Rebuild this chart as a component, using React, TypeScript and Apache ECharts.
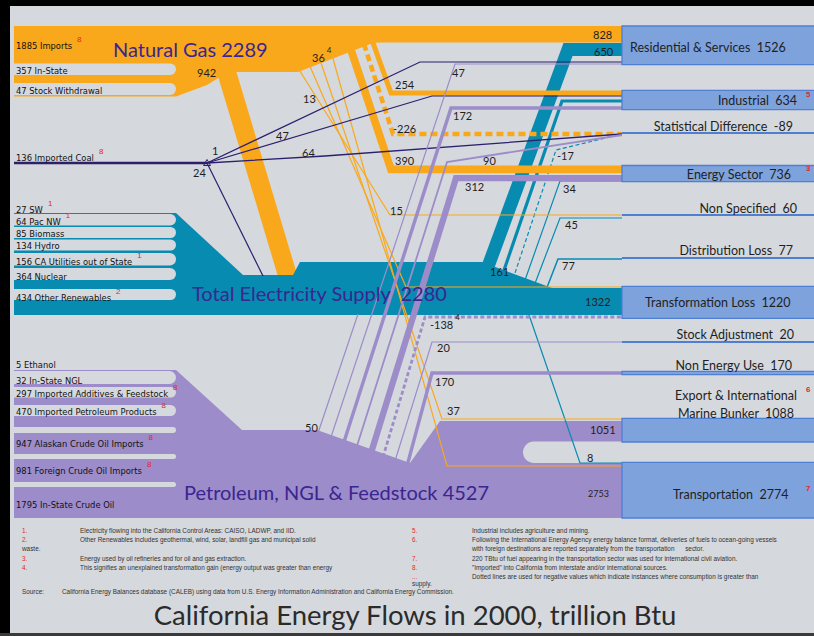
import React, { useEffect, useRef } from "react";
import * as echarts from "echarts";

type P = [number, number];

// ---------------- DATA (trillion Btu, California 2000) ----------------
const gasSourceNames = ["Imports", "In-State", "Stock Withdrawal"];
const gasSourceValues = [1885, 357, 47];
const gasSourceNotes = ["8", "", ""];

const coalSourceNames = ["Imported Coal"];
const coalSourceValues = [136];
const coalSourceNotes = ["8"];

const elecSourceNames = ["SW", "Pac NW", "Biomass", "Hydro", "CA Utilities out of State", "Nuclear", "Other Renewables"];
const elecSourceValues = [27, 64, 85, 134, 156, 364, 434];
const elecSourceNotes = ["1", "1", "", "", "1", "", "2"];

const petroSourceNames = ["Ethanol", "In-State NGL", "Imported Additives & Feedstock", "Imported Petroleum Products", "Alaskan Crude Oil Imports", "Foreign Crude Oil Imports", "In-State Crude Oil"];
const petroSourceValues = [5, 32, 297, 470, 947, 981, 1795];
const petroSourceNotes = ["", "", "8", "8", "8", "8", ""];

const hubNames = ["Natural Gas", "Total Electricity Supply", "Petroleum, NGL & Feedstock"];
const hubTotals = [2289, 2280, 4527];

const sinkNames = ["Residential & Services", "Industrial", "Statistical Difference", "Energy Sector", "Non Specified", "Distribution Loss", "Transformation Loss", "Stock Adjustment", "Non Energy Use", "Export & International Marine Bunker", "Transportation"];
const sinkTotals = [1526, 634, -89, 736, 60, 77, 1220, 20, 170, 1088, 2774];
const sinkNotes = ["", "5", "", "3", "", "", "", "", "", "6", "7"];

// flows hub -> sink (same order as sinkNames); 0 = no flow
const gasToSinks = [828, 254, -226, 390, 15, 0, 36, 0, 0, 37, 13];
const elecToSinks = [650, 161, -17, 34, 45, 77, 1322, 0, 0, 0, 8];
const petroToSinks = [47, 172, 90, 312, 0, 0, -138, 20, 170, 1051, 2753];
const coalToSinks = [1, 47, 64, 0, 0, 0, 0, 0, 0, 0, 0];
const gasToElectricity = 942;
const coalToElectricity = 24;
const petroToElectricity = 50;

const titleText = "California Energy Flows in 2000, trillion Btu";
const footLeft: [string, string, number][] = [
  ["1.", "Electricity flowing into the California Control Areas: CAISO, LADWP, and IID.", 530],
  ["2.", "Other Renewables includes geothermal, wind, solar, landfill gas and municipal solid", 539],
  ["3.", "Energy used by oil refineries and for oil and gas extraction.", 558],
  ["4.", "This signifies an unexplained transformation gain (energy output was greater than energy", 567],
];
const footRight: [string, string, number][] = [
  ["5.", "Industrial includes agriculture and mining.", 530],
  ["6.", "Following the International Energy Agency energy balance format, deliveries of fuels to ocean-going vessels", 539],
  ["", "with foreign destinations are reported separately from the transportation      sector.", 548],
  ["7.", "220 TBtu of fuel appearing in the transportation sector was used for international civil aviation.", 558],
  ["8.", "\"Imported\" into California from interstate and/or international sources.", 567],
  ["...", "Dotted lines are used for negative values which indicate instances where consumption is greater than", 576],
];
const sourceText = "California Energy Balances database (CALEB) using data from U.S. Energy Information Administration and California Energy Commission.";

// ---------------- LAYOUT (positions / styles only) ----------------
const K = 0.02; // px per trillion Btu
const MIN_W = 1.2;
const BOX_X = 622;

const C = {
  bg: "#d5d8dd", gas: "#f9a81b", elec: "#078bb1", petro: "#9c8cc9", coal: "#2c1f6e",
  box: "#7ea2dc", boxEdge: "#4f7fd3", hub: "#3b2590", text: "#1f1f1f", red: "#e5262b",
};
const F_NARROW = '"DejaVu Sans Condensed", "Liberation Sans Narrow", Roboto, sans-serif';
const F_MAIN = 'Lato, "Open Sans", sans-serif';
const F_FOOT = '"Liberation Sans", Arial, sans-serif';

type Route = { pts: P[]; top?: number; bottom?: number; lab: P; sup?: string; small?: boolean };

const GAS_REGION: P[] = [[14, 26], [380, 26], [380, 42], [373, 43], [298, 72], [228, 72], [207, 85], [176, 96.5], [14, 96.5]];
const ELEC_REGION: P[] = [[14, 213], [176, 213], [243, 275], [293, 275], [300, 262], [482, 262], [552, 288], [622, 288], [622, 315], [14, 315]];
const PETRO_REGION: P[] = [[14, 370], [176, 370], [242, 430], [317, 430], [410, 463], [440, 421], [622, 421], [622, 518], [14, 518]];
const PETRO_LENS = { x: 523, y: 441.5, w: 110, h: 21.5 };

const GAS_TONGUES: P[] = [[63.5, 75], [83, 95]];
const ELEC_TONGUES: P[] = [[214, 225.5], [227, 238], [239.5, 250.5], [253, 265.5], [268, 280], [289, 300]];
const PETRO_TONGUES: P[] = [[371, 384], [387, 397.5], [405, 416], [427, 433], [454, 459], [482, 487]];

const GAS_LABEL_Y = [45, 70, 90];
const COAL_LABEL_Y = [157];
const ELEC_LABEL_Y = [209, 221, 233, 245, 261, 276, 297];
const PETRO_LABEL_Y = [364, 380, 393, 411, 443, 470, 504];

const GAS_ROUTES: Record<number, Route> = {
  0: { pts: [[300, 0], [BOX_X, 0]], top: 26, lab: [593, 34] },
  1: { pts: [[372, 40], [391, 93], [BOX_X, 93]], lab: [395, 84] },
  2: { pts: [[364, 44], [393, 134], [BOX_X, 134]], lab: [393, 128] },
  3: { pts: [[350, 47], [391, 0], [BOX_X, 0]], top: 165.5, lab: [395, 160] },
  4: { pts: [[298, 68], [390, 215], [BOX_X, 215]], lab: [390, 210] },
  6: { pts: [[309, 64], [406, 287], [BOX_X, 287]], lab: [312, 57], sup: "4" },
  9: { pts: [[320, 60], [442, 419], [BOX_X, 419]], lab: [447, 410] },
  10: { pts: [[332, 55], [447, 466], [BOX_X, 466]], lab: [303, 98] },
};
const GAS_ELEC_ROUTE: Route = { pts: [[226, 70], [288, 277]], lab: [197, 72] };

const ELEC_ROUTES: Record<number, Route> = {
  0: { pts: [[486, 272], [568, 0], [BOX_X, 0]], top: 43, lab: [594, 51] },
  1: { pts: [[502, 276], [562, 101], [BOX_X, 101]], lab: [490, 271] },
  2: { pts: [[513, 279], [556, 150], [BOX_X, 134]], lab: [557, 155] },
  3: { pts: [[524, 283], [560, 181], [BOX_X, 181]], lab: [563, 188] },
  4: { pts: [[534, 286], [560, 218], [BOX_X, 218]], lab: [565, 224] },
  5: { pts: [[546, 290], [558, 259], [BOX_X, 259]], lab: [562, 265] },
  6: { pts: [[540, 0], [BOX_X, 0]], bottom: 315, lab: [585, 301] },
  10: { pts: [[528, 312], [580, 463], [BOX_X, 463]], lab: [587, 457] },
};

const PETRO_ROUTES: Record<number, Route> = {
  0: { pts: [[330, 440], [455, 64], [BOX_X, 64]], lab: [452, 72] },
  1: { pts: [[343, 445], [451, 108], [BOX_X, 108]], lab: [453, 115] },
  2: { pts: [[356, 449], [447, 162], [BOX_X, 135]], lab: [483, 160] },
  3: { pts: [[371, 453], [456, 0], [BOX_X, 0]], top: 175, lab: [465, 186] },
  6: { pts: [[383, 457], [425, 317], [BOX_X, 317]], lab: [430, 324], sup: "4" },
  7: { pts: [[395, 461], [432, 342], [BOX_X, 342]], lab: [437, 347] },
  8: { pts: [[407, 466], [432, 373], [BOX_X, 373]], lab: [435, 381] },
  9: { pts: [[445, 0], [BOX_X, 0]], top: 421, lab: [590, 429] },
  10: { pts: [[445, 0], [BOX_X, 0]], bottom: 518, lab: [588, 493], small: true },
};
const PETRO_ELEC_ROUTE: Route = { pts: [[317, 436], [358, 314]], lab: [305, 427] };

const COAL_SOURCE_LINE: P[] = [[14, 163], [207, 163]];
const COAL_ROUTES: Record<number, Route> = {
  0: { pts: [[207, 163], [420, 62], [BOX_X, 62]], lab: [212, 150] },
  1: { pts: [[207, 163], [432, 96], [BOX_X, 96]], lab: [276, 135] },
  2: { pts: [[207, 163], [325, 156], [BOX_X, 134]], lab: [302, 152] },
};
const COAL_ELEC_ROUTE: Route = { pts: [[207, 163], [263, 276]], lab: [193, 172] };

const HUB_LABELS: P[] = [[113, 49], [192, 293], [184, 492]];

const SINK_LINE_Y: (number | null)[] = [null, null, 133, null, 215, 258, null, 342, null, null, null];
const SINK_LABELS: { x: number; y: number; align: string; wrap?: boolean }[] = [
  { x: 630, y: 47, align: "left" },
  { x: 797, y: 100, align: "right" },
  { x: 793, y: 126, align: "right" },
  { x: 791, y: 174, align: "right" },
  { x: 797, y: 208, align: "right" },
  { x: 793, y: 250, align: "right" },
  { x: 645, y: 302, align: "left" },
  { x: 794, y: 334, align: "right" },
  { x: 792, y: 365, align: "right" },
  { x: 736, y: 404, align: "center", wrap: true },
  { x: 673, y: 494, align: "left" },
];

// ---------------- BUILD ----------------
const widthOf = (v: number) => Math.max(MIN_W, Math.abs(v) * K);
function routePts(r: Route, v: number): P[] {
  const w = widthOf(v);
  const pts = r.pts.map((p) => [p[0], p[1]] as P);
  const n = pts.length;
  let y: number | null = null;
  if (r.top != null) y = r.top + w / 2;
  if (r.bottom != null) y = r.bottom - w / 2;
  if (y != null) { pts[n - 1][1] = y; pts[n - 2][1] = y; }
  return pts;
}

let measureCtx: CanvasRenderingContext2D | null = null;
function textWidth(s: string, font: string) {
  if (!measureCtx) measureCtx = document.createElement("canvas").getContext("2d");
  if (!measureCtx) return s.length * 4.5;
  measureCtx.font = font;
  return measureCtx.measureText(s).width;
}

function buildItems() {
  const items: any[] = [];
  const poly = (pts: P[], fill: string) => items.push({ t: "poly", pts, fill });
  const line = (pts: P[], w: number, color: string, dash?: number[]) => items.push({ t: "line", pts, w, color, dash });
  const rect = (x: number, y: number, w: number, h: number, fill: string, extra: any = {}) => items.push({ t: "rect", x, y, w, h, fill, ...extra });
  const text = (x: number, y: number, s: string, size: number, color: string, family: string, extra: any = {}) =>
    items.push({ t: "text", x, y, s, size, color, family, ...extra });

  const flowLabels: any[] = [];
  const sinkExt: [number, number][][] = sinkNames.map(() => []);
  const flow = (r: Route, v: number, color: string, sink: number | null) => {
    const pts = routePts(r, v);
    const w = widthOf(v);
    line(pts, w, color, v < 0 ? (w > 3 ? [7, 4] : [4, 2.5]) : undefined);
    if (sink != null) {
      const yEnd = pts[pts.length - 1][1];
      sinkExt[sink].push([yEnd - w / 2, yEnd + w / 2]);
    }
    flowLabels.push({ r, v });
  };

  rect(0, 0, 814, 636, C.bg);

  // hub regions
  poly(GAS_REGION, C.gas);
  flow(GAS_ELEC_ROUTE, gasToElectricity, C.gas, null);
  poly(ELEC_REGION, C.elec);
  flow(ELEC_ROUTES[6], elecToSinks[6], C.elec, 6);
  poly(PETRO_REGION, C.petro);
  flow(PETRO_ROUTES[9], petroToSinks[9], C.petro, 9);
  flow(PETRO_ROUTES[10], petroToSinks[10], C.petro, 10);
  rect(PETRO_LENS.x, PETRO_LENS.y, PETRO_LENS.w, PETRO_LENS.h, C.bg, { r: [PETRO_LENS.h / 2, 0, 0, PETRO_LENS.h / 2] });

  elecToSinks.forEach((v, i) => { if (v !== 0 && i !== 6) flow(ELEC_ROUTES[i], v, C.elec, i); });
  gasToSinks.forEach((v, i) => { if (v !== 0) flow(GAS_ROUTES[i], v, C.gas, i); });
  line(COAL_SOURCE_LINE, widthOf(coalSourceValues[0]), C.coal);
  coalToSinks.forEach((v, i) => { if (v !== 0) flow(COAL_ROUTES[i], v, C.coal, i); });
  flow(COAL_ELEC_ROUTE, coalToElectricity, C.coal, null);
  items.push({ t: "tri", pts: [[203.5, 165.5], [210.5, 165.5], [207, 159.5]] as P[], color: C.coal });
  flow(PETRO_ELEC_ROUTE, petroToElectricity, C.petro, null);
  petroToSinks.forEach((v, i) => { if (v !== 0 && i !== 9 && i !== 10) flow(PETRO_ROUTES[i], v, C.petro, i); });

  // label slots carved into the hub regions
  [GAS_TONGUES, ELEC_TONGUES, PETRO_TONGUES].forEach((ts) =>
    ts.forEach(([a, b]) => rect(10, a, 166, b - a, C.bg, { r: [0, (b - a) / 2, (b - a) / 2, 0] }))
  );

  // sink boxes / lines
  sinkNames.forEach((_, i) => {
    const ly = SINK_LINE_Y[i];
    if (Math.abs(sinkTotals[i]) < 100 && ly != null) {
      rect(BOX_X, ly - 1, 200, 2, C.boxEdge);
    } else {
      const ext = sinkExt[i];
      const y0 = Math.min(...ext.map((e) => e[0]));
      const y1 = Math.max(...ext.map((e) => e[1]));
      rect(BOX_X, y0, 200, y1 - y0, C.box, { stroke: C.boxEdge, lw: 1.3 });
    }
  });

  // frame
  rect(0, 0, 814, 6, "#000");
  rect(0, 0, 10, 636, "#000");
  rect(0, 633, 814, 3, "#3a3a3a");

  // ---------- texts ----------
  const leftFont = 9.3;
  const leftFontStr = `${leftFont}px ${F_NARROW}`;
  const leftGroup = (names: string[], vals: number[], notes: string[], ys: number[]) =>
    names.forEach((n, i) => {
      const s = `${vals[i]} ${n}`;
      text(16, ys[i], s, leftFont, "#111", F_NARROW);
      if (notes[i]) text(16 + textWidth(s, leftFontStr) + 5, ys[i] - 6, notes[i], 8, C.red, F_FOOT);
    });
  leftGroup(gasSourceNames, gasSourceValues, gasSourceNotes, GAS_LABEL_Y);
  leftGroup(coalSourceNames, coalSourceValues, coalSourceNotes, COAL_LABEL_Y);
  leftGroup(elecSourceNames, elecSourceValues, elecSourceNotes, ELEC_LABEL_Y);
  leftGroup(petroSourceNames, petroSourceValues, petroSourceNotes, PETRO_LABEL_Y);

  hubNames.forEach((n, i) => {
    const s = i === 1 ? `${n}  ${hubTotals[i]}` : `${n} ${hubTotals[i]}`;
    text(HUB_LABELS[i][0], HUB_LABELS[i][1], s, 20, C.hub, F_MAIN);
  });

  flowLabels.forEach(({ r, v }) => {
    const size = r.small ? 9 : 11;
    text(r.lab[0], r.lab[1], String(v), size, C.text, F_MAIN);
    if (r.sup) text(r.lab[0] + textWidth(String(v), `${size}px ${F_MAIN}`) + 2, r.lab[1] - 7, r.sup, 8, C.text, F_MAIN);
  });

  sinkNames.forEach((n, i) => {
    const L = SINK_LABELS[i];
    const name = L.wrap ? n.replace("International ", "International\n") : n;
    text(L.x, L.y, `${name}  ${sinkTotals[i]}`, 12.5, C.text, F_MAIN, { align: L.align, lh: 18 });
    if (sinkNotes[i]) text(806, L.y - (L.wrap ? 15 : 6), sinkNotes[i], 8, C.red, F_FOOT, { weight: "bold" });
  });

  // footnotes
  const fs = 6.4;
  footLeft.forEach(([k, s, y]) => { text(22, y, k, fs, C.red, F_FOOT); text(80, y, s, fs, "#333", F_FOOT); });
  text(22, 548, "waste.", fs, "#333", F_FOOT);
  footRight.forEach(([k, s, y]) => { if (k) text(412, y, k, fs, C.red, F_FOOT); text(472, y, s, fs, "#333", F_FOOT); });
  text(412, 583, "supply.", fs, "#333", F_FOOT);
  text(22, 591, "Source:", fs, "#333", F_FOOT);
  text(62, 591, sourceText, fs, "#333", F_FOOT);

  text(415, 614, titleText, 27.5, "#2b2b2b", F_MAIN, { align: "center" });
  return items;
}

function renderEl(it: any, api: any) {
  const c = (p: P) => api.coord(p);
  const unit = api.size([1, 1]) as number[];
  if (it.t === "poly") return { type: "polygon", silent: true, shape: { points: it.pts.map(c) }, style: { fill: it.fill } };
  if (it.t === "tri") return { type: "polygon", silent: true, shape: { points: it.pts.map(c) }, style: { fill: "none", stroke: it.color, lineWidth: 1 } };
  if (it.t === "line")
    return {
      type: "polyline", silent: true, shape: { points: it.pts.map(c) },
      style: { stroke: it.color, fill: "none", lineWidth: it.w * unit[1], lineDash: it.dash || null, lineJoin: "miter", lineCap: "butt", miterLimit: 20 },
    };
  if (it.t === "rect") {
    const a = c([it.x, it.y]);
    const b = c([it.x + it.w, it.y + it.h]);
    return {
      type: "rect", silent: true,
      shape: { x: a[0], y: a[1], width: b[0] - a[0], height: b[1] - a[1], r: it.r || 0 },
      style: { fill: it.fill, stroke: it.stroke || null, lineWidth: it.lw || 0 },
    };
  }
  const a = c([it.x, it.y]);
  return {
    type: "text", silent: true, x: a[0], y: a[1],
    style: {
      text: it.s, fill: it.color, fontSize: it.size, fontFamily: it.family, fontWeight: it.weight || "normal",
      align: it.align || "left", verticalAlign: "middle", lineHeight: it.lh || it.size * 1.2,
    },
  };
}

export default function App() {
  const ref = useRef<HTMLDivElement>(null);
  useEffect(() => {
    if (!ref.current) return;
    const chart = echarts.init(ref.current, undefined, { renderer: "svg" });
    const items = buildItems();
    chart.setOption({
      animation: false,
      backgroundColor: C.bg,
      grid: { left: 0, right: 0, top: 0, bottom: 0 },
      xAxis: { type: "value", min: 0, max: 814, show: false },
      yAxis: { type: "value", min: 0, max: 636, inverse: true, show: false },
      series: [
        {
          type: "custom",
          coordinateSystem: "cartesian2d",
          silent: true,
          clip: false,
          renderItem: (params: any, api: any) => renderEl(items[params.dataIndex], api),
          data: items.map(() => [0, 0]),
        },
      ],
    });
    return () => chart.dispose();
  }, []);
  return <div ref={ref} style={{ position: "fixed", left: 0, top: 0, width: 814, height: 636 }} />;
}
